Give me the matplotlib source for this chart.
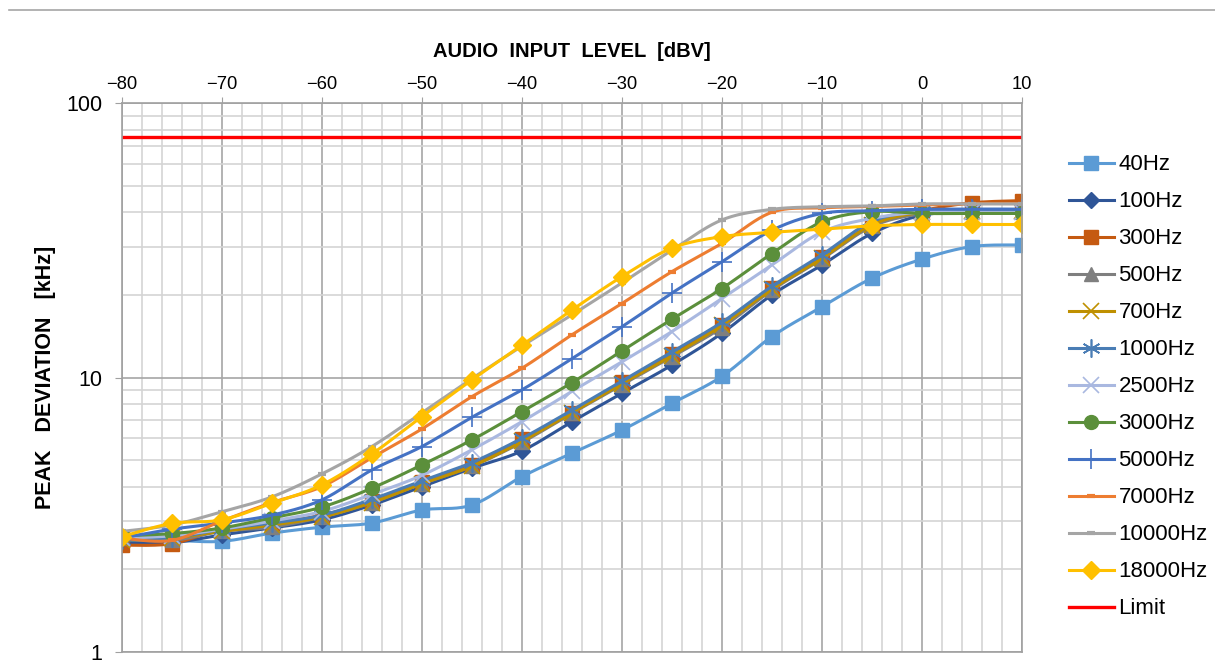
import numpy as np
import matplotlib
matplotlib.use("Agg")
import matplotlib.pyplot as plt
from matplotlib.lines import Line2D
from matplotlib.ticker import FixedLocator, NullFormatter

plt.rcParams['font.family'] = ['Liberation Sans', 'DejaVu Sans']

# Input level sweep [dBV]
levels = [-80, -75, -70, -65, -60, -55, -50, -45, -40, -35,
          -30, -25, -20, -15, -10, -5, 0, 5, 10]

# Peak deviation [kHz] per modulation frequency
dev_40 = [2.55, 2.55, 2.53, 2.71, 2.85, 2.95, 3.29, 3.43, 4.35, 5.30,
          6.43, 8.05, 10.1, 14.1, 18.1, 23.0, 27.0, 30.0, 30.4]
dev_100 = [2.5, 2.5, 2.67, 2.83, 3.03, 3.43, 4.0, 4.67, 5.4, 6.9,
           8.76, 11.1, 14.5, 20.0, 25.7, 33.5, 39.0, 40.0, 40.0]
dev_300 = [2.45, 2.48, 2.8, 2.95, 3.15, 3.55, 4.15, 4.8, 5.95, 7.45,
           9.6, 12.2, 15.6, 21.2, 27.5, 36.0, 40.5, 43.3, 44.1]
dev_500 = [2.6, 2.55, 2.75, 2.85, 3.1, 3.5, 4.1, 4.75, 5.8, 7.4,
           9.4, 11.9, 15.2, 20.8, 27.0, 35.5, 39.5, 40.0, 40.0]
dev_700 = [2.55, 2.6, 2.75, 2.9, 3.1, 3.5, 4.1, 4.75, 5.85, 7.45,
           9.5, 12.0, 15.5, 21.0, 27.2, 36.0, 40.0, 40.5, 40.5]
dev_1000 = [2.55, 2.6, 2.8, 2.95, 3.15, 3.6, 4.2, 4.9, 6.0, 7.6,
            9.7, 12.4, 15.9, 21.5, 28.0, 37.0, 40.5, 41.0, 41.0]
dev_2500 = [2.6, 2.65, 2.8, 3.0, 3.25, 3.75, 4.4, 5.45, 6.9, 8.9,
            11.4, 14.7, 19.4, 25.7, 33.9, 38.0, 40.0, 40.0, 40.0]
dev_3000 = [2.65, 2.7, 2.83, 3.08, 3.37, 3.95, 4.8, 5.92, 7.51, 9.57,
            12.5, 16.3, 21.1, 28.3, 36.9, 40.2, 39.6, 39.6, 39.6]
dev_5000 = [2.6, 2.8, 2.95, 3.15, 3.58, 4.6, 5.6, 7.16, 9.01, 11.7,
            15.3, 20.3, 26.4, 34.4, 39.6, 40.5, 41.0, 41.0, 41.0]
dev_7000 = [2.6, 2.55, 3.0, 3.5, 4.0, 5.1, 6.49, 8.51, 10.8, 14.3,
            18.6, 24.3, 30.8, 40.0, 41.5, 42.0, 42.5, 43.0, 43.0]
dev_10000 = [2.75, 2.9, 3.24, 3.67, 4.45, 5.6, 7.43, 9.9, 13.0, 16.9,
             22.1, 29.1, 37.5, 41.0, 41.9, 42.2, 42.9, 42.9, 42.9]
dev_18000 = [2.63, 2.94, 3.03, 3.48, 4.06, 5.26, 7.2, 9.79, 13.1, 17.6,
             23.3, 29.6, 32.6, 33.8, 34.7, 35.7, 36.1, 36.1, 36.1]
limit = 75

series = [
    ('40Hz', dev_40, '#5B9BD5', dict(marker='s', ms=10)),
    ('100Hz', dev_100, '#2F5597', dict(marker='D', ms=8)),
    ('300Hz', dev_300, '#C55A11', dict(marker='s', ms=10)),
    ('500Hz', dev_500, '#7F7F7F', dict(marker='^', ms=10)),
    ('700Hz', dev_700, '#BF9000', dict(marker='x', ms=11, mew=1.2)),
    ('1000Hz', dev_1000, '#4A7DB5', dict(marker=(6, 2, 0), ms=13, mew=1.2)),
    ('2500Hz', dev_2500, '#A9B8E0', dict(marker='x', ms=11, mew=1.2)),
    ('3000Hz', dev_3000, '#5B8F3B', dict(marker='o', ms=10)),
    ('5000Hz', dev_5000, '#4472C4', dict(marker='+', ms=14, mew=1.2)),
    ('7000Hz', dev_7000, '#ED7D31', dict(marker='_', ms=6, mew=3)),
    ('10000Hz', dev_10000, '#A5A5A5', dict(marker='_', ms=6, mew=3)),
    ('18000Hz', dev_18000, '#FFC000', dict(marker='D', ms=9)),
]


def smooth(x, y, n=20):
    # Catmull-Rom curve through the points in (x, log y)
    x = np.asarray(x, float)
    ly = np.log10(np.asarray(y, float))
    px = np.concatenate([[x[0]], x, [x[-1]]])
    py = np.concatenate([[ly[0]], ly, [ly[-1]]])
    xs, ys = [], []
    t = np.linspace(0, 1, n, endpoint=False)
    for i in range(1, len(px) - 2):
        p0, p1, p2, p3 = i - 1, i, i + 1, i + 2
        for arr, out in ((px, xs), (py, ys)):
            c1 = arr[p1] + (arr[p2] - arr[p0]) / 6
            c2 = arr[p2] - (arr[p3] - arr[p1]) / 6
            out.extend((1 - t) ** 3 * arr[p1] + 3 * (1 - t) ** 2 * t * c1
                       + 3 * (1 - t) * t ** 2 * c2 + t ** 3 * arr[p2])
    xs.append(x[-1])
    ys.append(ly[-1])
    return np.array(xs), 10 ** np.array(ys)


fig = plt.figure(figsize=(12.15, 6.69), dpi=100)
ax = fig.add_axes([0.1, 0.0254, 0.7412, 0.8206])

handles = []
for name, vals, color, mk in series:
    sx, sy = smooth(levels, vals)
    ax.plot(sx, sy, color=color, lw=2.2, solid_capstyle='round')
    ax.plot(levels, vals, linestyle='none', color=color, mec=color, **mk)
    handles.append(Line2D([], [], color=color, lw=2.2, **mk))

ax.axhline(limit, color='#FF0000', lw=2.4)
handles.append(Line2D([], [], color='#FF0000', lw=2.4))

ax.set_xlim(-80, 10)
ax.set_yscale('log')
ax.set_ylim(1, 100)

ax.xaxis.tick_top()
ax.xaxis.set_label_position('top')
ax.set_xticks(range(-80, 11, 10))
ax.xaxis.set_minor_locator(FixedLocator(range(-80, 11, 2)))
ax.set_yticks([1, 10, 100])
ax.set_yticklabels(['1', '10', '100'])
ax.yaxis.set_minor_formatter(NullFormatter())

ax.tick_params(axis='x', which='major', labelsize=13.2, length=4,
               color='#A0A0A0', pad=3)
ax.tick_params(axis='y', which='major', labelsize=15.5, length=5,
               color='#A0A0A0', pad=9)
ax.tick_params(which='minor', length=0)

ax.grid(which='major', color='#A6A6A6', lw=1.2)
ax.grid(which='minor', color='#D4D4D4', lw=1.2)
ax.set_axisbelow(True)
for sp in ax.spines.values():
    sp.set_color('#A0A0A0')
    sp.set_linewidth(1.2)

ax.set_xlabel('AUDIO  INPUT  LEVEL  [dBV]', fontsize=14.5,
              fontweight='bold', labelpad=14)
ax.set_ylabel('PEAK   DEVIATION   [kHz]', fontsize=15.5,
              fontweight='bold', labelpad=7)

labels = [s[0] for s in series] + ['Limit']
fig.legend(handles, labels, loc='upper left',
           bbox_to_anchor=(0.8727, 0.7825), frameon=False, fontsize=16,
           handlelength=2.0, handletextpad=0.22, labelspacing=0.72,
           borderaxespad=0)

# thin rule across the top
fig.add_artist(Line2D([0.007, 1.0], [0.985, 0.985], color='#A6A6A6',
                      lw=1.2, transform=fig.transFigure))

fig.savefig('out.png', dpi=100)
